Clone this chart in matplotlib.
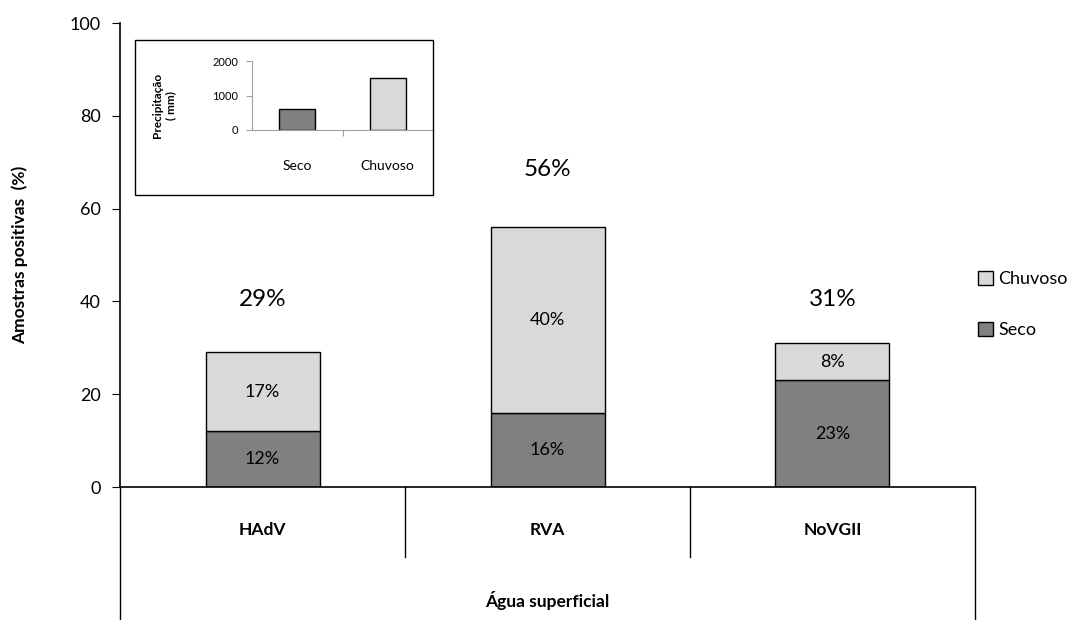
import matplotlib.pyplot as plt
from matplotlib.patches import Rectangle

plt.rcParams['font.family'] = ['Lato', 'DejaVu Sans']

# positivity per virus, split by season (%)
virus = ["HAdV", "RVA", "NoVGII"]
seco = [12, 16, 23]
chuvoso = [17, 40, 8]
total = [29, 56, 31]
# height of the total label above each bar
offset = [11.5, 12.5, 9.5]

# rainfall per season (mm)
estacao = ["Seco", "Chuvoso"]
precip = [620, 1500]

cor_seco = "#808080"
cor_chuvoso = "#d9d9d9"

fig = plt.figure(figsize=(10.79, 6.2), dpi=100)
ax = fig.add_axes([120 / 1079, 133 / 620, 855 / 1079, 464 / 620])

x = range(len(virus))
b1 = ax.bar(x, seco, width=0.4, color=cor_seco, edgecolor="black", linewidth=1, label="Seco")
b2 = ax.bar(x, chuvoso, width=0.4, bottom=seco, color=cor_chuvoso, edgecolor="black",
            linewidth=1, label="Chuvoso")

for i in x:
    ax.text(i, seco[i] / 2, f"{seco[i]}%", ha="center", va="center", fontsize=13)
    ax.text(i, seco[i] + chuvoso[i] / 2, f"{chuvoso[i]}%", ha="center", va="center", fontsize=13)
    ax.text(i, total[i] + offset[i], f"{total[i]}%", ha="center", va="center", fontsize=17.5)

ax.set_xlim(-0.5, 2.5)
ax.set_ylim(0, 100)
ax.set_yticks(range(0, 101, 20))
ax.tick_params(axis="y", direction="out", length=6, labelsize=13, pad=8)
ax.set_xticks([])
for s in ["top", "right"]:
    ax.spines[s].set_visible(False)
ax.spines["left"].set_linewidth(1.2)
ax.spines["bottom"].set_linewidth(1.2)
ax.set_ylabel("Amostras positivas  (%)", fontsize=12.5, fontweight="bold")
ax.yaxis.set_label_coords(-0.108, 0.5)

# category table under the axis
tr = ax.get_xaxis_transform()
for xb, yb in [(-0.5, -0.287), (0.5, -0.151), (1.5, -0.151), (2.5, -0.287)]:
    ax.plot([xb, xb], [0, yb], color="black", lw=1, transform=tr, clip_on=False)
for i in x:
    ax.text(i, -0.093, virus[i], ha="center", va="center", fontsize=12.5,
            fontweight="bold", transform=tr)
ax.text(1, -0.245, "Água superficial", ha="center", va="center", fontsize=12.5,
        fontweight="bold", transform=tr)

handles = [b2, b1]
ax.legend(handles, ["Chuvoso", "Seco"], loc="upper left", bbox_to_anchor=(0.985, 0.5),
          frameon=False, fontsize=13, handlelength=0.8, handleheight=0.8,
          handletextpad=0.3, labelspacing=1.9)

# inset with seasonal rainfall
fig.patches.append(Rectangle((135 / 1079, 425 / 620), 298 / 1079, 155 / 620,
                             transform=fig.transFigure, fill=False, edgecolor="black",
                             linewidth=1, zorder=0))
ins = fig.add_axes([252 / 1079, 490 / 620, 181 / 1079, 69 / 620])
ins.bar(range(len(estacao)), precip, width=0.4, color=[cor_seco, cor_chuvoso],
        edgecolor="black", linewidth=1)
ins.set_xlim(-0.5, 1.5)
ins.set_ylim(0, 2000)
ins.set_yticks([0, 1000, 2000])
ins.tick_params(axis="y", direction="out", length=4, labelsize=8, color="#a0a0a0", pad=6)
ins.set_xticks([0.5])
ins.set_xticklabels([""])
ins.tick_params(axis="x", direction="out", length=4, color="#a0a0a0")
for s in ["top", "right"]:
    ins.spines[s].set_visible(False)
for s in ["left", "bottom"]:
    ins.spines[s].set_color("#a0a0a0")
for i, e in enumerate(estacao):
    ins.text(i, -0.52, e, ha="center", va="center", fontsize=10,
             transform=ins.get_xaxis_transform())
ins.set_ylabel("Precipitação\n( mm)", fontsize=8.5, fontweight="bold", linespacing=1.2)
ins.yaxis.set_label_coords(-0.42, 0.35)

fig.savefig("out.png", dpi=100)
